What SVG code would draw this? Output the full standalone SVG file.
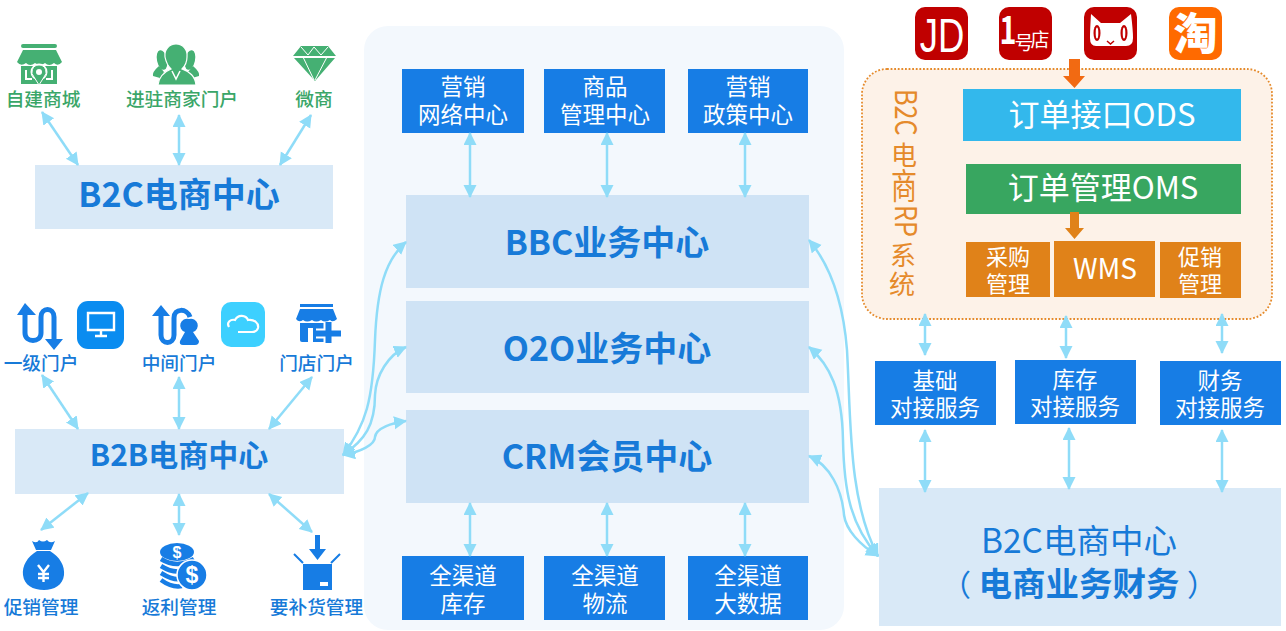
<svg xmlns="http://www.w3.org/2000/svg" width="1286" height="631" viewBox="0 0 1286 631">
<style>
text{font-family:"Noto Sans CJK SC","Noto Sans",sans-serif;text-anchor:middle}
.b{fill:#177de5}
.lt{fill:#d9e9f7}
.md{fill:#cfe3f5}
.o{fill:#e08219}
.w{fill:#fff;font-size:22.5px}
.wl{fill:#fff;font-size:31px}
.h{fill:#177ad8;font-weight:700;font-size:34px}
.g{fill:#3aa668;font-size:18.700px;font-weight:500}
.bl{fill:#177ad8;font-size:18.700px;font-weight:500}
.gi{fill:#45b073}
.bi{fill:#177de5}
.c path,.c line{fill:none;stroke:#8fdcf8;stroke-width:2.500;marker-start:url(#a);marker-end:url(#a)}
.erp{fill:#e58a2b;font-size:26px}
.erpr{fill:#e58a2b;font-size:30px;text-anchor:start}
</style>
<defs>
<marker id="a" markerUnits="userSpaceOnUse" markerWidth="15" markerHeight="14" refX="12" refY="6.500" orient="auto-start-reverse"><path d="M0,0L13,6.500L0,13Z" fill="#8fdcf8"/></marker>
</defs>
<rect id="panel" x="364" y="26" width="480" height="604" rx="24" fill="#f3f8fd"/>

<g id="b2c-center"><rect class="lt" x="35" y="165" width="298" height="64"/><text class="h" x="179" y="207">B2C电商中心</text></g>
<g id="shop"><path class="gi" d="M23,44H55a2,2 0 0 1 0,4H23a2,2 0 0 1 0-4ZM23,50H56L62,62Q58,67 54,63Q49,67 45,63Q40,67 35,63Q30,67 26,63Q21,67 17,62Z"/><rect class="gi" x="21" y="66" width="36" height="18"/><path d="M26,70V79H32M52,70V79H46" fill="none" stroke="#fff" stroke-width="2"/><circle cx="39" cy="72" r="8.500" fill="#fff"/><path class="gi" d="M39,65A7,7 0 0 1 44,77L39,85L34,77A7,7 0 0 1 39,65Z" stroke="#fff" stroke-width="1"/><circle cx="39" cy="72" r="3" fill="#fff"/><text class="g" x="43" y="106">自建商城</text></g>
<g id="merchant"><ellipse class="gi" cx="162" cy="60" rx="5" ry="10" transform="rotate(-12 162 60)"/><ellipse class="gi" cx="190" cy="60" rx="5" ry="10" transform="rotate(12 190 60)"/><path class="gi" d="M159,66L164,72L160,78L153,76Q152,72 159,66ZM193,66L188,72L192,78L199,76Q200,72 193,66Z"/><path class="gi" stroke="#fff" stroke-width="1.200" d="M176,44C183,44 188,50 187,57C187,62 185,66 182,69C190,72 195,76 196,85H158C159,76 164,72 171,69C168,66 166,62 165,57C164,50 169,44 176,44Z"/><path d="M172,71L176,79L180,71" stroke="#fff" fill="none" stroke-width="1.500"/><text class="g" x="182" y="106">进驻商家门户</text></g>
<g id="wechat-shop"><path class="gi" d="M301,46H328L336,56H293ZM294,58H335L315,81Z"/><path d="M303,57L314,80M327,57L315,80M301,47L308,55L314,47L321,55L328,47" stroke="#fff" stroke-width="1" fill="none"/><text class="g" x="314" y="106">微商</text></g>

<g id="b2b-center"><rect class="lt" x="15" y="429" width="329" height="65"/><text class="h" x="179" y="466" style="font-size:30px">B2B电商中心</text></g>
<g id="level1"><path d="M25,310V333C25,343 41,343 41,333V317C41,307 54,307 54,317V340" fill="none" stroke="#177de5" stroke-width="5"/><path class="bi" d="M25,303L36,315H17ZM54,350L63,339H45Z"/><rect x="77" y="301" width="47" height="48" rx="11" fill="#0a8cf0"/><path d="M88,313H114V330H88ZM101,330V335M95,336H107" fill="none" stroke="#fff" stroke-width="2.400"/><text class="bl" x="41" y="370">一级门户</text></g>
<g id="middle"><path d="M161,312V335C161,345 174,345 174,335V318C174,308 187,308 190,317" fill="none" stroke="#177de5" stroke-width="5"/><path class="bi" d="M161,305L170,316H152Z"/><path class="bi" d="M189,319A6.500,6.500 0 0 1 193,332L199,341Q199,345 195,345H183Q179,345 180,341L185,332A6.500,6.500 0 0 1 189,319Z"/><rect x="221" y="302" width="44" height="45" rx="10" fill="#3dd0ff"/><path d="M229,327C226,322 231,319 235,320C238,314 246,315 248,320C254,319 259,323 258,328C257,331 255,332 252,332H238" fill="none" stroke="#fff" stroke-width="2.200"/><text class="bl" x="179" y="370">中间门户</text></g>
<g id="store-door"><path class="bi" d="M300,304H333V307H300ZM300,309H333L337,319Q333,323 330,320Q325,323 321,320Q316,323 312,320Q307,323 303,320Q299,323 296,319Z"/><path class="bi" d="M300,323H333V342H302Q300,342 300,340Z"/><rect x="308" y="328" width="5" height="14" fill="#fff"/><path d="M328.500,322V343M316,333.500H341" stroke="#fff" stroke-width="10"/><path d="M328.500,322V343M316,333.500H341" stroke="#177de5" stroke-width="6"/><text class="bl" x="316.500" y="370">门店门户</text></g>

<g id="promo-mgr"><path class="bi" d="M32,541Q37,544 39,540Q43,543 47,540Q50,544 55,541L51,550H36ZM37,551H50C60,557 65,566 64,575C63,585 54,590 44,590C33,590 24,585 23,575C22,566 27,557 37,551Z"/><path d="M38,565L43.500,572L49,565M43.500,572V582M38,574H49M38,578H49" stroke="#fff" stroke-width="2.400" fill="none"/><text class="bl" x="41" y="614">促销管理</text></g>
<g id="rebate-mgr"><ellipse class="bi" cx="177" cy="552" rx="17" ry="9"/><path d="M161,559Q177,569 194,559M161,566Q177,576 189,568M161,573Q177,583 186,577M161,580Q172,588 182,586" stroke="#177de5" stroke-width="4.500" fill="none"/><circle class="bi" cx="192" cy="575" r="15" stroke="#fff" stroke-width="1.500"/><text x="192" y="583" fill="#fff" style="font-size:23px;font-weight:700;font-family:'Liberation Sans'">$</text><text x="177" y="558" fill="#fff" style="font-size:16px;font-weight:700;font-family:'Liberation Sans'">$</text><text class="bl" x="179" y="614">返利管理</text></g>
<g id="replenish-mgr"><path class="bi" d="M315,535H320V549H326L317.500,560L309,549H315ZM303,564H332V590H303Z"/><path d="M294,554L303,563M340,554L331,563" stroke="#177de5" stroke-width="2"/><rect x="320" y="582" width="8" height="4" fill="#fff"/><text class="bl" x="316.500" y="614">要补货管理</text></g>

<g id="marketing-network"><rect class="b" x="402" y="69" width="122" height="64"/><text class="w" x="463" y="95">营销</text><text class="w" x="463" y="123">网络中心</text></g>
<g id="goods-mgr"><rect class="b" x="544" y="69" width="121" height="64"/><text class="w" x="605" y="95">商品</text><text class="w" x="605" y="123">管理中心</text></g>
<g id="marketing-policy"><rect class="b" x="688" y="69" width="120" height="64"/><text class="w" x="748" y="95">营销</text><text class="w" x="748" y="123">政策中心</text></g>
<g id="bbc"><rect class="md" x="406" y="195" width="403" height="93"/><text class="h" x="607" y="255">BBC业务中心</text></g>
<g id="o2o"><rect class="md" x="406" y="301" width="403" height="92"/><text class="h" x="607" y="361">O2O业务中心</text></g>
<g id="crm"><rect class="md" x="406" y="410" width="403" height="93"/><text class="h" x="607" y="469">CRM会员中心</text></g>
<g id="inventory"><rect class="b" x="402" y="556" width="122" height="64"/><text class="w" x="463" y="584">全渠道</text><text class="w" x="463" y="612">库存</text></g>
<g id="logistics"><rect class="b" x="544" y="556" width="121" height="64"/><text class="w" x="605" y="584">全渠道</text><text class="w" x="605" y="612">物流</text></g>
<g id="bigdata"><rect class="b" x="688" y="556" width="120" height="64"/><text class="w" x="748" y="584">全渠道</text><text class="w" x="748" y="612">大数据</text></g>

<g id="jd"><rect x="915" y="7" width="53" height="53" rx="10" fill="#c00000"/><text transform="translate(942,52) scale(.76,1)" fill="#fff" style="font-size:48px;font-family:'Liberation Sans'">JD</text></g>
<g id="yhd"><rect x="999" y="7" width="53" height="53" rx="10" fill="#c00000"/><text transform="translate(1008,44) scale(.9,1.200)" fill="#fff" style="font-size:32px;font-weight:700">1</text><text x="1024" y="50" fill="#fff" style="font-size:19px">号</text><text x="1040" y="47" fill="#fff" style="font-size:19px">店</text></g>
<g id="tmall"><rect x="1084" y="7" width="53" height="53" rx="10" fill="#c00000"/><path d="M1091,14L1101,23H1120L1131,14Q1133,30 1133,38Q1133,46 1126,46H1096Q1090,46 1090,38Q1090,30 1091,14Z" fill="#fff"/><ellipse cx="1097" cy="33" rx="3.500" ry="8" fill="#c00000"/><ellipse cx="1124" cy="33" rx="3.500" ry="8" fill="#c00000"/><ellipse cx="1097" cy="33" rx="1.300" ry="5.500" fill="#fff"/><ellipse cx="1124" cy="33" rx="1.300" ry="5.500" fill="#fff"/><path d="M1107,41L1110.500,44L1114,41" fill="none" stroke="#c00000" stroke-width="1.500"/></g>
<g id="taobao"><rect x="1169" y="7" width="53" height="53" rx="10" fill="#ff6a00"/><text x="1195.500" y="50" fill="#fff" style="font-size:44px;font-weight:900">淘</text></g>

<g id="erp"><rect x="862" y="69" width="410" height="250" rx="25" fill="#fdf2e8" stroke="#e58a2b" stroke-width="1.800" stroke-dasharray="1.800 1.800"/>
<text class="erpr" transform="translate(895,89) rotate(90) scale(.84,1)">B2C</text><text class="erp" x="904" y="165">电</text><text class="erp" transform="translate(904,199) scale(1,1.350)">商</text><text class="erpr" transform="translate(895,205) rotate(90) scale(.84,1)">RP</text><text class="erp" x="903" y="265">系</text><text class="erp" x="902" y="294">统</text></g>
<g id="ods"><rect x="963" y="89" width="278" height="52" fill="#33b8ec"/><text class="wl" x="1102" y="126">订单接口ODS</text></g>
<g id="oms"><rect x="966" y="164" width="275" height="50" fill="#38a660"/><text class="wl" x="1103" y="199">订单管理OMS</text></g>
<g id="purchase"><rect class="o" x="966" y="242" width="84" height="55"/><text class="w" x="1008" y="265" style="font-size:22px">采购</text><text class="w" x="1008" y="292" style="font-size:22px">管理</text></g>
<g id="wms"><rect class="o" x="1054" y="241" width="101" height="56"/><text class="w" x="1105" y="279" style="font-size:28px">WMS</text></g>
<g id="promo"><rect class="o" x="1160" y="242" width="81" height="56"/><text class="w" x="1200" y="265" style="font-size:22px">促销</text><text class="w" x="1200" y="292" style="font-size:22px">管理</text></g>
<path id="flow-in" d="M1069,59H1080V76H1085L1074.500,88L1063,76H1069Z" fill="#f26a12"/>
<path id="flow-wms" d="M1070,212H1079V228H1084L1074.500,239L1065,228H1070Z" fill="#e08219"/>

<g id="svc-base"><rect class="b" x="875" y="361" width="121" height="64"/><text class="w" x="935" y="389">基础</text><text class="w" x="935" y="416">对接服务</text></g>
<g id="svc-stock"><rect class="b" x="1015" y="360" width="121" height="64"/><text class="w" x="1075" y="388">库存</text><text class="w" x="1075" y="415">对接服务</text></g>
<g id="svc-finance"><rect class="b" x="1160" y="361" width="121" height="64"/><text class="w" x="1220" y="389">财务</text><text class="w" x="1220" y="416">对接服务</text></g>
<g id="b2c-finance"><rect class="lt" x="879" y="488" width="402" height="138"/><text x="1079" y="553" fill="#177ad8" style="font-size:33.500px">B2C电商中心</text><text x="1079" y="596" fill="#177ad8" style="font-size:33.500px;font-weight:700"><tspan font-weight="400" font-size="30">（</tspan> 电商业务财务 <tspan font-weight="400" font-size="30">）</tspan></text></g>

<g id="connectors" class="c">
<line x1="42" y1="112" x2="78" y2="165"/><line x1="179" y1="115" x2="179" y2="165"/><line x1="311" y1="115" x2="280" y2="165"/>
<line x1="42" y1="375" x2="78" y2="429"/><line x1="179" y1="377" x2="179" y2="429"/><line x1="312" y1="377" x2="269" y2="429"/>
<line x1="88" y1="493" x2="41" y2="530"/><line x1="179" y1="494" x2="179" y2="535"/><line x1="269" y1="494" x2="312" y2="532"/>
<line x1="470" y1="133" x2="470" y2="197"/><line x1="607" y1="133" x2="607" y2="197"/><line x1="745" y1="133" x2="745" y2="197"/>
<line x1="470" y1="503" x2="470" y2="556"/><line x1="607" y1="503" x2="607" y2="556"/><line x1="745" y1="503" x2="745" y2="556"/>
<path d="M343,455C366,425 373,400 375,340C377,290 385,260 406,242"/>
<path d="M343,455C365,440 375,425 375,395C376,375 388,355 406,347"/>
<path d="M343,455C360,452 375,445 375,437C376,428 392,423 406,421"/>
<path d="M809,240C830,265 843,300 847,350C851,420 848,500 878,556"/>
<path d="M809,347C830,365 842,390 843,440C844,490 850,525 878,556"/>
<path d="M809,456C830,465 842,490 844,515C846,530 860,545 878,556"/>
<line x1="925" y1="314" x2="925" y2="355"/><line x1="1066" y1="316" x2="1066" y2="358"/><line x1="1222" y1="314" x2="1222" y2="353"/>
<line x1="925" y1="430" x2="925" y2="492"/><line x1="1069" y1="428" x2="1069" y2="489"/><line x1="1222" y1="430" x2="1222" y2="492"/>
</g>
</svg>
